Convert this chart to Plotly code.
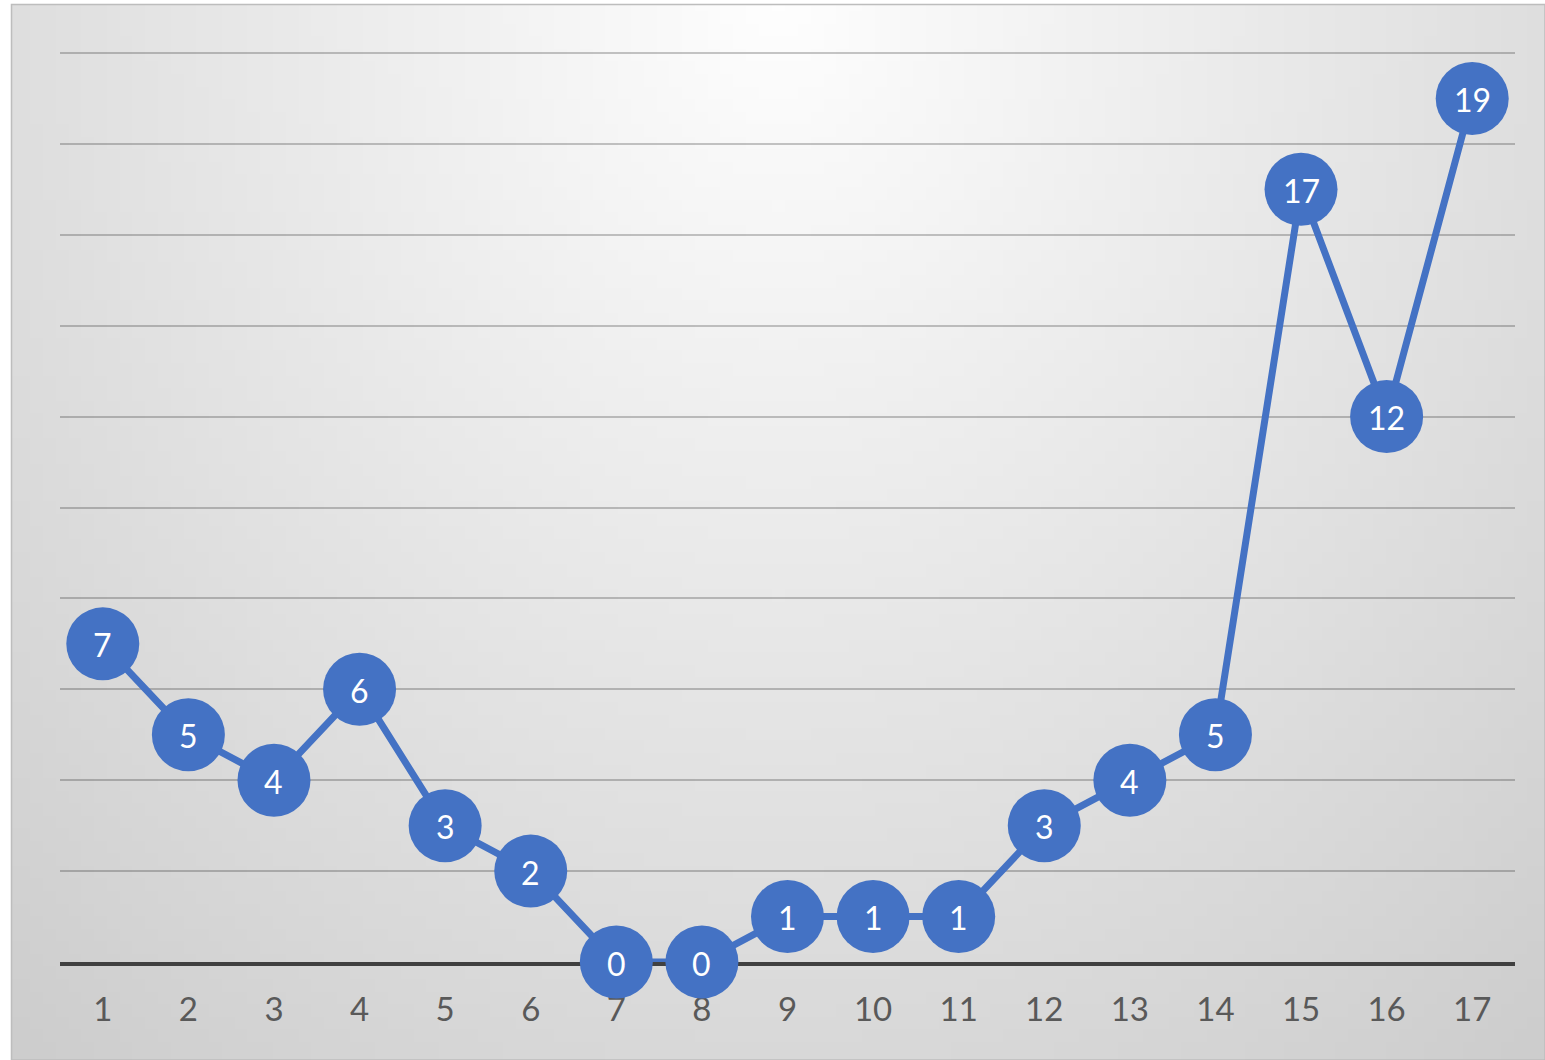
import base64
import math
import struct
import zlib

import plotly.graph_objects as go

# ---- data ----
categories = [str(i) for i in range(1, 18)]
values = [7, 5, 4, 6, 3, 2, 0, 0, 1, 1, 1, 3, 4, 5, 17, 12, 19]
y_ticks = list(range(0, 21, 2))

W, H = 1545, 1060
BLUE = "#4472C4"


# ---- background gradient (radial from top centre) as a small PNG ----
def make_png(w, h):
    raw = bytearray()
    for j in range(h):
        raw.append(0)
        dy = (j + 0.5) / h
        for i in range(w):
            dx = (i + 0.5) / w * 2 - 1
            v = 254 - math.sqrt((32 * dx) ** 2 + (38 * dy) ** 2)
            raw.append(max(0, min(255, int(round(v)))))

    def chunk(tag, data):
        c = tag + data
        return struct.pack(">I", len(data)) + c + struct.pack(">I", zlib.crc32(c) & 0xFFFFFFFF)

    png = b"\x89PNG\r\n\x1a\n"
    png += chunk(b"IHDR", struct.pack(">IIBBBBB", w, h, 8, 0, 0, 0, 0))
    png += chunk(b"IDAT", zlib.compress(bytes(raw), 9))
    png += chunk(b"IEND", b"")
    return "data:image/png;base64," + base64.b64encode(png).decode()


bg_src = make_png(120, 84)

y_max = 20.1
px_per_unit = (962 - 53) / 20.0
left_px, right_px = 60, 1515
bottom_px = 962
top_px = bottom_px - y_max * px_per_unit

fig = go.Figure()
fig.add_trace(
    go.Scatter(
        x=categories,
        y=values,
        mode="lines+markers",
        line=dict(color=BLUE, width=7),
        marker=dict(color=BLUE, size=73, line=dict(width=0)),
        cliponaxis=False,
        hoverinfo="x+y",
        showlegend=False,
    )
)

# value labels centred in each marker (category axis position = index)
annotations = [
    dict(
        x=idx,
        y=v,
        xref="x",
        yref="y",
        text=str(v),
        showarrow=False,
        xanchor="center",
        yanchor="middle",
        yshift=-1,
        font=dict(family="Lato, sans-serif", size=32, color="white"),
    )
    for idx, v in enumerate(values)
]

fig.update_layout(
    width=W,
    height=H,
    autosize=False,
    margin=dict(l=0, r=0, t=0, b=0),
    paper_bgcolor="white",
    plot_bgcolor="rgba(0,0,0,0)",
    annotations=annotations,
    images=[
        dict(
            source=bg_src,
            xref="paper",
            yref="paper",
            x=11 / W,
            y=1 - 4 / H,
            sizex=(W - 11) / W,
            sizey=(H - 4) / H,
            xanchor="left",
            yanchor="top",
            sizing="stretch",
            layer="below",
        )
    ],
    shapes=[
        dict(
            type="rect",
            xref="paper",
            yref="paper",
            x0=11.5 / W,
            x1=1,
            y0=0,
            y1=1 - 4.5 / H,
            line=dict(color="#bdbdbd", width=1.5),
            fillcolor="rgba(0,0,0,0)",
            layer="below",
        )
    ],
    xaxis=dict(
        type="category",
        categoryorder="array",
        categoryarray=categories,
        range=[-0.5, len(categories) - 0.5],
        domain=[left_px / W, right_px / W],
        showgrid=False,
        zeroline=False,
        showline=True,
        linecolor="#404040",
        linewidth=4,
        ticks="outside",
        ticklen=15,
        tickcolor="rgba(0,0,0,0)",
        tickfont=dict(family="Lato, sans-serif", size=33, color="#595959"),
        layer="below traces",
        fixedrange=True,
    ),
    yaxis=dict(
        range=[0, y_max],
        domain=[1 - bottom_px / H, 1 - top_px / H],
        tickmode="array",
        tickvals=y_ticks,
        showticklabels=False,
        showgrid=True,
        gridcolor="rgba(0,0,0,0.22)",
        gridwidth=1.5,
        zeroline=False,
        showline=False,
        layer="below traces",
        fixedrange=True,
    ),
)

fig.write_html("out.html")
